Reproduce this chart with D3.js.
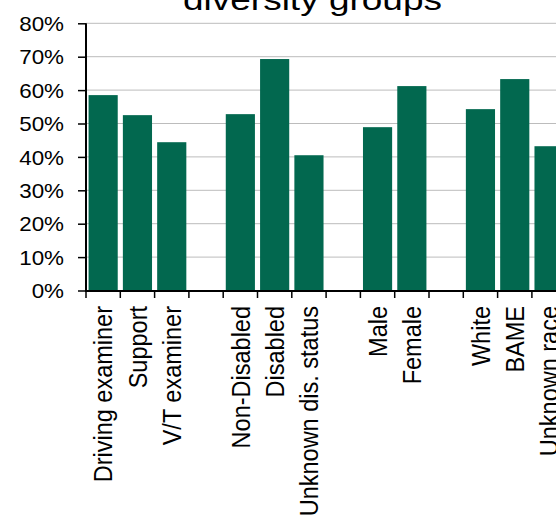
<!DOCTYPE html>
<html><head><meta charset="utf-8">
<script src="https://cdn.jsdelivr.net/npm/d3@7"></script>
<style>body{margin:0;background:#fff}svg{display:block}text{font-family:"Liberation Sans",Arial,sans-serif;fill:#000}</style>
</head><body><svg id="c" width="556" height="517"></svg>
<script>
const title = "diversity groups";
const categories = ["Driving examiner","Support","V/T examiner","","Non-Disabled","Disabled","Unknown dis. status","","Male","Female","","White","BAME","Unknown race"];
const values = [0.585,0.525,0.444,null,0.528,0.693,0.405,null,0.489,0.612,null,0.543,0.633,0.432];
const yTicks = [0,0.1,0.2,0.3,0.4,0.5,0.6,0.7,0.8];
const yTickLabels = ["0%","10%","20%","30%","40%","50%","60%","70%","80%"];

(function(){
const W = 556, H = 517;
const plotLeft = 86, step = 34.3, plotTop = 23.3, plotBottom = 290.5;
const svg = d3.select("#c");

const idx = d3.range(categories.length);
const x = d3.scaleBand().domain(idx).range([plotLeft, plotLeft + step*categories.length]).paddingInner(0.15).paddingOuter(0.075);
const xb = d3.scaleBand().domain(idx).range([plotLeft, plotLeft + step*categories.length]).padding(0);
const y = d3.scaleLinear().domain([0, 0.8]).range([plotBottom, plotTop]);

// gridlines
svg.append("g").selectAll("line").data(yTicks.filter(d=>d>0)).join("line")
  .attr("x1", plotLeft).attr("x2", W).attr("y1", d=>y(d)).attr("y2", d=>y(d))
  .attr("stroke", "#bcbcbc").attr("stroke-width", 1);

// bars
svg.append("g").selectAll("rect").data(idx.filter(i=>values[i]!=null)).join("rect")
  .attr("x", i=>x(i)).attr("width", x.bandwidth())
  .attr("y", i=>y(values[i])).attr("height", i=>y(0)-y(values[i]))
  .attr("fill", "#02684F");

// y axis
const yAxis = d3.axisLeft(y).tickValues(yTicks).tickSize(8).tickFormat("");
const ga = svg.append("g").attr("transform", `translate(${plotLeft},0)`).call(yAxis);
ga.select(".domain").attr("stroke","#000").attr("stroke-width",2).attr("d", `M0,${plotTop}V${plotBottom+1.5}`);
ga.selectAll(".tick line").attr("stroke","#000").attr("stroke-width",1.5);

// y labels
svg.append("g").selectAll("g").data(yTicks).join("g")
  .attr("transform", (d)=>`translate(64,${y(d)+7.6}) scale(1.12,1)`)
  .append("text").attr("text-anchor","end").attr("font-size",20)
  .text((d,i)=>yTickLabels[i]);

// x axis line and ticks
const bounds = idx.map(i=>xb(i)).concat([xb(idx.length-1)+xb.bandwidth()]);
svg.append("line").attr("x1", plotLeft-1).attr("x2", W).attr("y1", plotBottom+0.5).attr("y2", plotBottom+0.5)
  .attr("stroke","#000").attr("stroke-width",2);
svg.append("g").selectAll("line").data(bounds).join("line")
  .attr("x1", d=>d).attr("x2", d=>d).attr("y1", plotBottom).attr("y2", plotBottom+7.5)
  .attr("stroke","#000").attr("stroke-width",1.5);

// x labels
svg.append("g").selectAll("g").data(idx.filter(i=>categories[i])).join("g")
  .attr("transform", i=>`translate(${xb(i)+xb.bandwidth()/2+9.2},306) scale(1.09,1) rotate(-90)`)
  .append("text").attr("text-anchor","end").attr("font-size",23.5)
  .text(i=>categories[i]);

// title (cropped at top)
svg.append("text").attr("x", 312.5).attr("y", 9.5).attr("text-anchor","middle")
  .attr("font-size", 30).attr("textLength", 259).attr("lengthAdjust","spacingAndGlyphs")
  .text(title);
})();
</script></body></html>
